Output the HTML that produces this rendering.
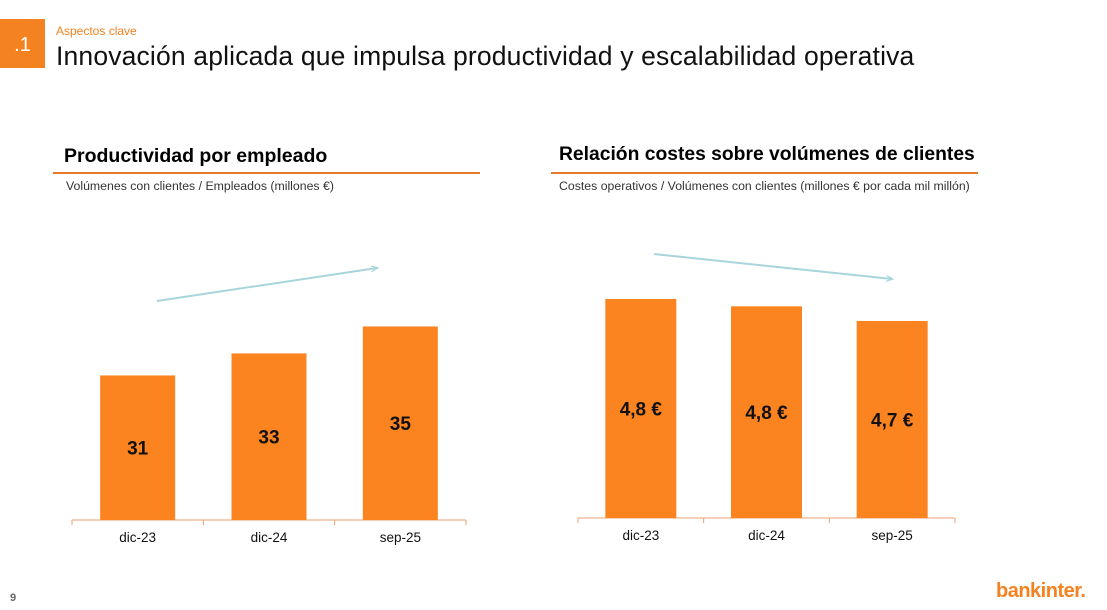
<!DOCTYPE html>
<html><head><meta charset="utf-8"><style>
body{margin:0;width:1107px;height:610px;background:#fff;font-family:"Liberation Sans",sans-serif;position:relative;overflow:hidden}
.abs{position:absolute;white-space:nowrap}
</style></head><body>
<div class="abs" style="left:0;top:19px;width:45px;height:49px;background:#f58220;color:#fff;font-size:20px;line-height:52px;text-align:center">.1</div>
<div class="abs" style="left:56px;top:24px;font-size:12px;color:#f58220">Aspectos clave</div>
<div class="abs" style="left:56px;top:41px;font-size:26.5px;color:#111;letter-spacing:0.16px">Innovación aplicada que impulsa productividad y escalabilidad operativa</div>
<div class="abs" style="left:64px;top:145px;font-size:19.5px;font-weight:bold;color:#000">Productividad por empleado</div>
<div class="abs" style="left:53px;top:172px;width:427px;height:2px;background:#e8782a"></div>
<div class="abs" style="left:66px;top:179px;font-size:12.3px;color:#333">Volúmenes con clientes / Empleados (millones €)</div>
<div class="abs" style="left:559px;top:144px;font-size:19.3px;font-weight:bold;color:#000">Relación costes sobre volúmenes de clientes</div>
<div class="abs" style="left:551px;top:172px;width:427px;height:2px;background:#e8782a"></div>
<div class="abs" style="left:559px;top:179px;font-size:12.3px;color:#333">Costes operativos / Volúmenes con clientes (millones € por cada mil millón)</div>
<div class="abs" style="left:10px;top:592px;font-size:11px;font-weight:bold;color:#666">9</div>
<div class="abs" style="left:996px;top:580px;font-size:20px;font-weight:bold;color:#f58220;letter-spacing:-0.5px">bankinter.</div>
<svg class="abs" style="left:0;top:0" width="1107" height="610" id="svg"></svg>
<script>
const categories=["dic-23","dic-24","sep-25"];
const leftValues=[31.0,32.8,35.0];
const leftLabels=["31","33","35"];
const rightValues=[4.84,4.78,4.66];
const rightLabels=["4,8 €","4,8 €","4,7 €"];
const NS="http://www.w3.org/2000/svg";
const svg=document.getElementById('svg');
function mk(t,a){const e=document.createElementNS(NS,t);for(const k in a)e.setAttribute(k,a[k]);svg.appendChild(e);return e;}
function drawChart(cfg,vals,labels,prefix){
  const y=v=>cfg.base-(v-cfg.min)*cfg.k;
  const step=(cfg.x1-cfg.x0)/categories.length;
  let l=mk('line',{x1:cfg.x0,x2:cfg.x1,y1:cfg.base,y2:cfg.base,stroke:'#e8a070','stroke-width':1});
  
  
  for(let i=0;i<=categories.length;i++){
    const t=mk('line',{x1:cfg.x0+i*step,x2:cfg.x0+i*step,y1:cfg.base,y2:cfg.base+5,stroke:'#e8a070'});
    
    
  }
  vals.forEach((v,i)=>{
    const cx=cfg.x0+step*(i+0.5);
    const top=y(v);
    const r=mk('rect',{x:cx-cfg.bw/2,y:top,width:cfg.bw,height:cfg.base-top,fill:'#fb8420'});
    
    
    const tx=mk('text',{x:cx,y:(top+cfg.base)/2+7,'text-anchor':'middle','font-size':19,'font-weight':'bold',fill:'#111','font-family':'Liberation Sans'});
    tx.textContent=labels[i];
    
    
    const c=mk('text',{x:cx,y:cfg.base+22,'text-anchor':'middle','font-size':13.5,fill:'#111','font-family':'Liberation Sans'});
    c.textContent=categories[i];
    
    
  });
}
drawChart({x0:72,x1:466,base:520,min:19.2,k:12.25,bw:75},leftValues,leftLabels,'left');
drawChart({x0:578,x1:955,base:518,min:3.045,k:122,bw:71},rightValues,rightLabels,'right');
const d=mk('defs',{});
d.innerHTML='<marker id="ah" markerWidth="8" markerHeight="8" refX="6" refY="3" orient="auto" markerUnits="userSpaceOnUse"><path d="M0,0 L7,3 L0,6" fill="none" stroke="#a8d4dc" stroke-width="1.2"/></marker>';
let a1=mk('line',{x1:157,y1:301,x2:377,y2:268,stroke:'#a8d4dc','stroke-width':2,'marker-end':'url(#ah)'});


let a2=mk('line',{x1:654,y1:254,x2:892,y2:279,stroke:'#a8d4dc','stroke-width':2,'marker-end':'url(#ah)'});


</script>
</body></html>
